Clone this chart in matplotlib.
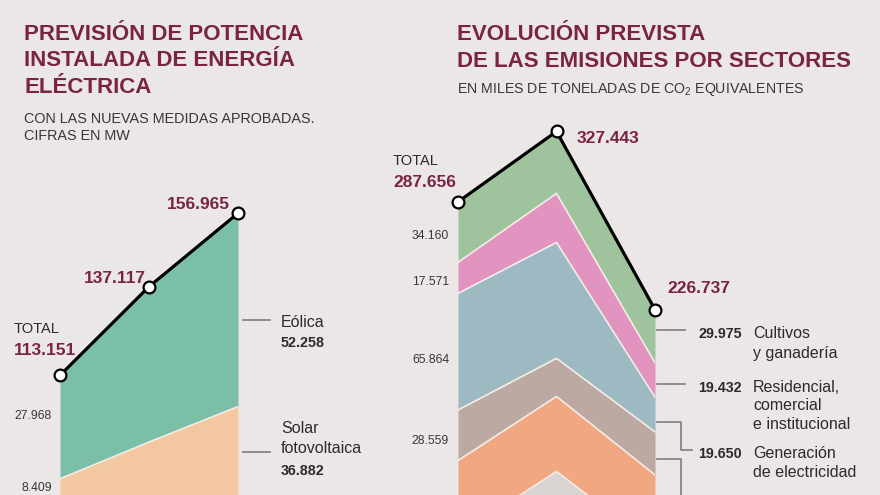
import numpy as np
import matplotlib.pyplot as plt

plt.rcParams['font.family'] = ['Liberation Sans', 'DejaVu Sans']
plt.rcParams['mathtext.fontset'] = 'custom'
plt.rcParams['mathtext.rm'] = 'Liberation Sans'

# --- data (thousands) ---
# left: installed power, MW (year labels are cut off in the picture)
pot_x = [0, 1, 2]
pot_total = [113.151, 137.117, 156.965]
pot_eolica = [27.968, 42.0, 52.258]
pot_solar = [8.409, 22.0, 36.882]

# right: emissions by sector, kt CO2 eq
em_x = [0, 1, 2]
em_total = [287.656, 327.443, 226.737]
em_cultivos = [34.160, 35.0, 29.975]
em_residencial = [17.571, 27.7, 19.432]
em_generacion = [65.864, 65.5, 19.650]
em_sector4 = [28.559, 21.5, 24.3]
em_sector5 = [42.4, 42.4, 40.7]

BG = '#ece7e7'
MAROON = '#7a2345'
DARK = '#2e2a2b'
GREY = '#8a8585'
W, H = 880, 495

fig = plt.figure(figsize=(8.8, 4.95), dpi=100)
fig.patch.set_facecolor(BG)


def t(x, y, s, **kw):
    kw.setdefault('va', 'baseline')
    kw.setdefault('color', DARK)
    fig.text(x / W, 1 - y / H, s, **kw)


def seg(xs, ys):
    fig.add_artist(plt.Line2D([x / W for x in xs], [1 - y / H for y in ys],
                              color=GREY, lw=1.3))


def stack(ax, x, total, layers, colors, rest_color=None):
    top = np.array(total)
    for vals, c in zip(layers, colors):
        low = top - np.array(vals)
        ax.fill_between(x, low, top, color=c, lw=0)
        ax.plot(x, low, color='#f4ece6', lw=1.2)
        top = low
    if rest_color:
        ax.fill_between(x, 0, top, color=rest_color, lw=0)
    ax.plot(x, total, color='black', lw=2.3, zorder=5, clip_on=False)
    ax.plot(x, total, 'o', ms=8.5, mfc='white', mec='black', mew=1.6,
            zorder=6, clip_on=False)


# left chart: baseline at 794 px, 3.7 px per thousand
axL = fig.add_axes([60 / W, 0, 178 / W, 1])
axL.set_xlim(0, 2)
axL.set_ylim((794 - H) / 3.7, 794 / 3.7)
axL.axis('off')
stack(axL, pot_x, pot_total, [pot_eolica, pot_solar], ['#7cbfa8', '#f3c8a0'])

# right chart: baseline at 711 px, 1.77 px per thousand
axR = fig.add_axes([458 / W, 0, 197 / W, 1])
axR.set_xlim(0, 2)
axR.set_ylim((711 - H) / 1.77, 711 / 1.77)
axR.axis('off')
stack(axR, em_x, em_total,
      [em_cultivos, em_residencial, em_generacion, em_sector4, em_sector5],
      ['#9fc49d', '#e194c0', '#9db9c2', '#bcaaa2', '#f2a783'],
      rest_color='#d9d3d1')

# --- titles ---
for i, s in enumerate(['PREVISIÓN DE POTENCIA', 'INSTALADA DE ENERGÍA', 'ELÉCTRICA']):
    t(24, 40 + i * 26.5, s, fontsize=16, fontweight='bold', color=MAROON)
t(24, 123, 'CON LAS NUEVAS MEDIDAS APROBADAS.', fontsize=10.4, color='#3a3536')
t(24, 140, 'CIFRAS EN MW', fontsize=10.4, color='#3a3536')

t(457, 40, 'EVOLUCIÓN PREVISTA', fontsize=16, fontweight='bold', color=MAROON)
t(457, 67, 'DE LAS EMISIONES POR SECTORES', fontsize=16, fontweight='bold', color=MAROON)
t(457, 93, 'EN MILES DE TONELADAS DE CO$_2$ EQUIVALENTES', fontsize=10.2, color='#3a3536')

# --- left labels ---
big = dict(fontsize=12.5, fontweight='bold', color=MAROON)
small = dict(fontsize=8.8, color='#3a3536', ha='right')
t(230, 209, '156.965', ha='right', **big)
t(146, 283, '137.117', ha='right', **big)
t(14, 333, 'TOTAL', fontsize=10.5)
t(14, 355, '113.151', **big)
t(52, 419, '27.968', **small)
t(52, 491, '8.409', **small)

seg([243, 270], [320, 320])
seg([243, 270], [452, 452])
leg = dict(fontsize=11.5, color='#2e2a2b')
num = dict(fontsize=10.3, fontweight='bold', color=DARK)
t(281, 327, 'Eólica', **leg)
t(281, 347, '52.258', **num)
t(281, 433, 'Solar', **leg)
t(281, 453, 'fotovoltaica', **leg)
t(281, 475, '36.882', **num)

# --- right labels ---
t(393, 165, 'TOTAL', fontsize=10.5)
t(393, 187, '287.656', **big)
t(577, 143, '327.443', **big)
t(667, 293, '226.737', **big)
t(449, 239, '34.160', **small)
t(449, 285, '17.571', **small)
t(449, 363, '65.864', **small)
t(449, 444, '28.559', **small)

seg([657, 685], [330, 330])
seg([657, 685], [384, 384])
seg([657, 681, 681, 692], [422, 422, 450, 450])
seg([657, 681, 681], [459, 459, 500])

t(742, 338, '29.975', ha='right', **num)
t(753, 338, 'Cultivos', **leg)
t(753, 358, 'y ganadería', **leg)
t(742, 392, '19.432', ha='right', **num)
t(753, 392, 'Residencial,', **leg)
t(753, 410, 'comercial', **leg)
t(753, 429, 'e institucional', **leg)
t(742, 458, '19.650', ha='right', **num)
t(753, 458, 'Generación', **leg)
t(753, 477, 'de electricidad', **leg)

fig.savefig('out.png', dpi=100, facecolor=BG)
